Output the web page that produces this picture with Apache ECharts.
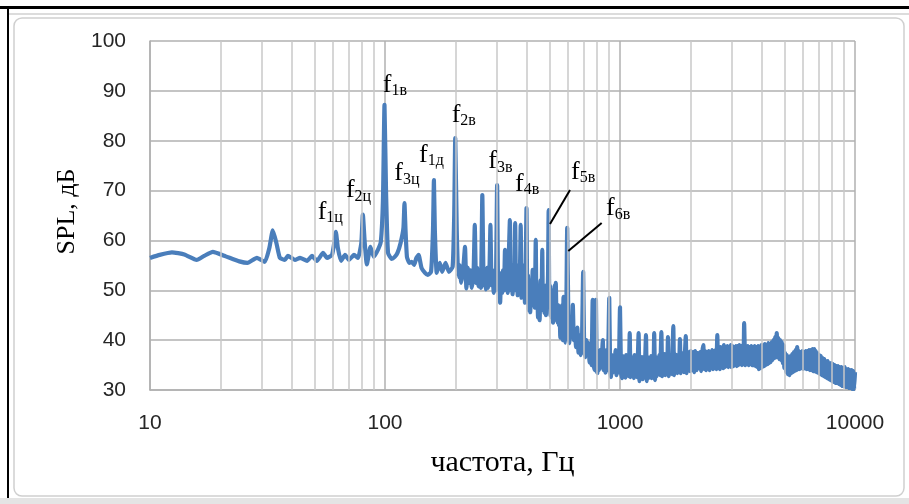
<!DOCTYPE html>
<html>
<head>
<meta charset="UTF-8">
<title>SPL</title>
<script src="https://cdn.jsdelivr.net/npm/echarts@6/dist/echarts.min.js"></script>
<style>
  html, body { margin: 0; padding: 0; background: #fff; }
  #main { width: 909px; height: 504px; }
</style>
</head>
<body>
<div id="main"></div>
<script type="text/javascript">
// spectrum: [frequency, Hz ; SPL, dB]
var lowRange = [
  [10, 56.5], [11, 57.1], [12.4, 57.6], [14, 57.2], [15.8, 56.1], [17, 56.9], [18.5, 57.7],
  [21, 56.8], [24, 55.8], [26, 55.5], [28.5, 56.5], [30.8, 55.7], [32.2, 58.5], [33.3, 62.0],
  [34.5, 59.5], [35.7, 56.5], [37.5, 56.1], [38.6, 56.9], [41.4, 56.1], [43.5, 56.5],
  [46.6, 55.9], [48.9, 56.9], [51.3, 55.9], [54.5, 57.5], [56.7, 56.5], [59.5, 57.1],
  [60.8, 59.5], [61.8, 61.7], [63, 58.5], [65, 55.9], [67.6, 57.1], [70.3, 56.1], [73.8, 57.1],
  [76.8, 56.5], [79.3, 59.5], [80.5, 65.2], [82, 59.5], [83.7, 55.2], [86.7, 58.7], [89.6, 56.7],
  [93.7, 58.3], [96, 59.7], [98, 68], [99.5, 87.2], [101, 70]
];
var midRange = [
  [103, 57.5], [106.7, 56.3], [110, 56.7], [113, 57.5], [116.5, 59.5], [119.8, 62.5], [121, 67.5],
  [122.3, 62], [124, 56.7], [127, 55.5], [130, 55.7], [133, 55.1], [136, 56.5], [139, 57.1],
  [143, 54.5], [148, 53.5], [152, 53.1], [157, 53.7], [160, 62], [161.5, 72.1], [163, 62],
  [166, 53.5], [171, 55.5], [175, 53.7], [181, 55.5], [187, 53.7], [194, 54.7], [197, 65],
  [199, 80.5], [202, 62], [205, 52.7], [208, 55], [211, 51.5], [215, 54], [219, 58.7], [222, 50.4],
  [225, 54.5], [228, 51.5], [231, 54], [234, 50.5], [238, 53], [241, 63.1], [244, 51.5], [247, 54.5],
  [250, 50.8], [253, 54], [256, 50.5], [259.5, 69.1], [263, 51], [266, 53.8], [269, 50.2], [272, 54.5],
  [275, 50.5], [278, 53], [281, 63.1], [284, 51], [287, 54], [290, 49.5], [293, 53], [296, 50],
  [300, 71.1], [303, 50.5], [306, 53.5], [309, 47.5], [312, 53], [315, 49.5], [318, 54], [321, 50],
  [324, 58.1], [327, 50.5], [330, 55], [333, 49.5], [336, 56], [340, 64.1], [343, 50], [346, 55],
  [349, 49.2], [352, 54.1], [355, 50], [358, 63.5], [361, 50.5], [364, 55], [367, 49], [370, 55],
  [374, 51], [378, 63.1], [381, 48.5], [384, 54], [388, 51], [391, 55], [394, 47.5], [397, 55],
  [400, 66.5], [403, 48], [406, 53], [409, 46], [412, 51], [415, 45.6], [418, 52], [421, 47],
  [425, 54.1], [428, 47], [431, 52], [434, 46.5], [438, 60.1], [441, 47], [444, 51], [448, 44.5],
  [452, 49], [455, 44.0], [459, 52], [463, 47], [467, 58.1], [470, 46], [474, 51], [477, 45.5],
  [480, 50.7], [484, 45], [487, 51], [490, 47], [494, 53], [497, 66.1], [500, 49], [503, 51],
  [506, 45], [509, 49.5], [512, 44.5], [515, 48.7], [519, 43.5], [522, 49], [526, 51], [529, 45],
  [533, 51.5], [537, 44], [540, 47], [543, 43.5], [547, 47], [550, 43], [554, 44.5], [557, 40.5],
  [560, 46], [563, 41.5], [567, 47], [571, 40], [575, 48.7], [579, 40.5], [583, 46], [587, 39.5],
  [591, 46]
];
var highRange1 = [
  [596, 62.5], [603, 44], [608, 39.4], [616, 43], [624, 41], [630, 47.1], [636, 40.0], [643, 42],
  [650, 38.6], [658, 42.5], [666, 37.5], [673, 41], [680, 37], [689, 40], [697, 53.7], [704, 38],
  [712, 36.6], [719, 40], [727, 37], [735, 39.4], [742, 35.5], [750, 38.5], [757, 35], [765, 48.1],
  [771, 36], [778, 34], [784, 38], [790, 48.1], [796, 34], [801, 33.4], [808, 37.5], [815, 34],
  [823, 38], [830, 34.5], [838, 37], [845, 40], [852, 34], [860, 36], [868, 33.5], [876, 38],
  [884, 34], [891, 37], [900, 48.5], [908, 34], [915, 32.6], [923, 37], [931, 33.5], [940, 36.5],
  [948, 34], [957, 38], [966, 33], [974, 36], [983, 33.5], [991, 36.5], [1000, 46.6], [1010, 33.5],
  [1020, 32.4], [1028, 36.8], [1037, 33.0], [1045, 36.0], [1053, 32.5], [1062, 37.0], [1071, 33.4],
  [1080, 36.2], [1090, 32.8], [1100, 41.4], [1108, 32.6], [1117, 36.6], [1126, 33.0], [1135, 36.4],
  [1145, 32.4], [1154, 37.0], [1163, 33.2], [1172, 36.2], [1181, 32.6], [1190, 35.8], [1200, 41.4],
  [1210, 31.8], [1220, 36.0], [1230, 32.6], [1240, 36.6], [1250, 32.2], [1260, 36.0], [1270, 33.0],
  [1280, 36.4], [1290, 41.0], [1300, 31.8], [1311, 36.6], [1322, 32.4], [1333, 36.0], [1344, 32.8],
  [1355, 36.8], [1366, 32.4], [1377, 36.2], [1388, 33.0], [1398, 41.4], [1410, 32.0], [1421, 36.6],
  [1433, 32.8], [1445, 36.4], [1457, 33.2], [1469, 37.0], [1481, 33.0], [1500, 41.6], [1512, 32.8],
  [1524, 36.8], [1536, 33.4], [1548, 37.2], [1561, 33.0], [1574, 36.6], [1587, 33.6], [1600, 40.6],
  [1613, 32.8], [1626, 36.6], [1639, 33.4], [1652, 37.0], [1665, 33.2], [1672, 36.8], [1686, 42.8],
  [1699, 33.0], [1713, 37.2], [1727, 33.6], [1741, 37.0], [1755, 33.4], [1769, 36.8], [1783, 33.8],
  [1799, 40.2], [1813, 33.4], [1828, 37.2], [1843, 33.8], [1858, 37.4], [1873, 33.6], [1888, 37.0],
  [1905, 40.8], [1920, 33.4], [1936, 37.4], [1952, 34.0], [1968, 37.6], [1984, 33.8]
];
var highRange2 = [
  [2000, 37.8], [2020, 34.0], [2050, 37.6], [2070, 33.6], [2090, 37.8], [2120, 34.0], [2140, 37.4],
  [2160, 34.4], [2195, 37.6], [2215, 33.8], [2240, 37.6], [2262, 39.0], [2285, 34.2], [2305, 37.8],
  [2325, 34.0], [2345, 37.6], [2365, 34.4], [2385, 37.8], [2405, 34.0], [2425, 37.4], [2445, 34.4],
  [2465, 38.0], [2490, 34.2], [2510, 37.8], [2530, 34.4], [2550, 38.0], [2570, 34.2], [2595, 41.0],
  [2615, 34.4], [2635, 38.2], [2658, 34.2], [2680, 38.6], [2702, 34.6], [2725, 38.4], [2748, 34.4],
  [2770, 39.0], [2795, 34.6], [2820, 38.6], [2842, 34.8], [2865, 38.8], [2890, 34.6], [2915, 38.6],
  [2937, 34.8], [2960, 39.0], [2985, 34.6], [3010, 38.8], [3037, 34.8], [3065, 38.6], [3090, 35.0],
  [3115, 38.8], [3140, 34.8], [3165, 38.8], [3192, 35.0], [3220, 39.0], [3247, 35.2], [3275, 38.8],
  [3302, 35.0], [3330, 39.0], [3355, 35.2], [3375, 43.4], [3410, 35.0], [3440, 38.6], [3470, 35.2],
  [3500, 38.8], [3530, 35.0], [3560, 38.6], [3590, 35.2], [3620, 38.8], [3650, 35.0], [3680, 38.6],
  [3710, 35.0], [3740, 38.8], [3772, 34.8], [3805, 38.6], [3837, 34.6], [3870, 38.8], [3902, 34.2],
  [3935, 38.4], [3967, 34.4], [4000, 39.0], [4032, 34.6], [4065, 38.8], [4100, 34.8], [4135, 39.2],
  [4170, 35.0], [4205, 39.0], [4240, 35.2], [4275, 39.4], [4310, 35.4], [4345, 39.2], [4382, 35.6],
  [4420, 39.6], [4457, 36.0], [4495, 40.0], [4532, 36.4], [4570, 40.6], [4608, 36.6], [4645, 41.4],
  [4685, 36.6], [4725, 40.4], [4765, 36.2], [4805, 40.0], [4845, 36.0], [4885, 39.6], [4925, 35.4],
  [4965, 39.0], [5005, 34.4], [5050, 37.4], [5090, 33.6], [5135, 37.0], [5177, 33.2], [5220, 36.6],
  [5265, 33.0], [5310, 36.8], [5355, 33.4], [5400, 37.2], [5445, 33.6], [5490, 37.6], [5535, 33.8],
  [5580, 38.0], [5627, 34.0], [5675, 38.6], [5722, 34.2], [5770, 37.8], [5817, 34.2], [5865, 37.6],
  [5915, 34.4], [5965, 37.8], [6015, 34.2], [6065, 37.6], [6117, 34.4], [6170, 37.8], [6220, 34.2],
  [6270, 37.8], [6322, 34.2], [6375, 38.0], [6430, 34.0], [6485, 38.0], [6540, 34.0], [6595, 38.2],
  [6650, 33.8], [6705, 38.2], [6760, 33.8], [6815, 37.8], [6872, 33.6], [6930, 37.4], [6990, 33.4],
  [7050, 37.0], [7107, 33.2], [7165, 36.8], [7225, 33.0], [7285, 36.4], [7347, 32.8], [7410, 36.2],
  [7472, 32.6], [7535, 35.8], [7597, 32.4], [7660, 35.8], [7725, 32.2], [7790, 35.4], [7855, 32.0],
  [7920, 35.4], [7987, 31.8], [8055, 35.2], [8122, 31.6], [8190, 35.0], [8257, 31.4], [8325, 34.8],
  [8395, 31.4], [8465, 34.8], [8537, 31.2], [8610, 34.6], [8682, 31.0], [8755, 34.6], [8827, 30.8],
  [8900, 34.4], [8975, 30.8], [9050, 34.6], [9125, 30.6], [9200, 34.2], [9277, 30.6], [9355, 34.2],
  [9435, 30.4], [9515, 34.0], [9595, 30.4], [9675, 34.0], [9755, 30.2], [9835, 33.8], [9917, 30.2],
  [10000, 33.6]
];

// intermediate grid lines of the log axis
var minorGrid = [20, 30, 40, 50, 60, 70, 80, 90, 200, 300, 400, 500, 600, 700, 800, 900,
  2000, 3000, 4000, 5000, 6000, 7000, 8000, 9000];

// peak labels: subscript, [freq, dB] of the label
var peakNames = ['1ц', '2ц', '1в', '3ц', '1д', '2в', '3в', '4в', '5в', '6в'];
var peakSpots = [[51.7, 65.7], [68.2, 70.0], [97.8, 91.2], [109.5, 73.4], [139.5, 77.2],
  [192.2, 85.2], [275.2, 75.8], [357.4, 71.3], [618.8, 73.7], [871.6, 66.4]];
// leader lines for f5в, f6в
var leaders = [
  [[612.8, 70.1], [503.7, 63.3]],
  [[835.6, 63.5], [602.6, 57.9]]
];

var yTicks = { min: 30, max: 100, step: 10 };
var xTitle = 'частота, Гц';
var yTitle = 'SPL, дБ';

var spectrum = lowRange.concat(midRange, highRange1, highRange2);

var myChart = echarts.init(document.getElementById('main'));

var option = {
    animation: false,
    backgroundColor: '#fff',
    grid: { left: 150, right: 54, top: 41, bottom: 114 },
    xAxis: {
        type: 'log', logBase: 10, min: 10, max: 10000,
        name: xTitle, nameLocation: 'middle', nameGap: 58,
        nameTextStyle: { fontFamily: 'Liberation Serif', fontSize: 30, color: '#000' },
        axisLine: { lineStyle: { color: '#b0b0b0', width: 1.5 } },
        axisTick: { show: false },
        minorTick: { show: false },
        axisLabel: {
            margin: 23, fontFamily: 'Liberation Sans', fontSize: 21, color: '#262626',
            formatter: function (v) { return String(Math.round(v)); }
        },
        splitLine: { show: true, lineStyle: { color: '#b0b0b0', width: 1.5 } }
    },
    yAxis: {
        type: 'value', min: yTicks.min, max: yTicks.max, interval: yTicks.step,
        name: yTitle, nameLocation: 'middle', nameGap: 58, nameRotate: 90,
        nameTextStyle: { fontFamily: 'Liberation Serif', fontSize: 26, color: '#000', padding: [0, 0, 0, 8] },
        axisLine: { show: true, lineStyle: { color: '#b0b0b0', width: 1.5 } },
        axisTick: { show: false },
        axisLabel: { margin: 24, fontFamily: 'Liberation Sans', fontSize: 21, color: '#262626' },
        splitLine: { lineStyle: { color: '#b0b0b0', width: 1.5 } }
    },
    graphic: [
        { type: 'rect', shape: { x: 0, y: 6, width: 909, height: 3 }, style: { fill: '#000' } },
        { type: 'rect', shape: { x: 7, y: 6, width: 2, height: 492 }, style: { fill: '#000' } },
        { type: 'rect', shape: { x: 9, y: 13, width: 900, height: 2 }, style: { fill: '#dcdcdc' } },
        { type: 'rect', shape: { x: 14, y: 18, width: 890, height: 478, r: 8 },
          style: { fill: 'none', stroke: '#cfcfcf', lineWidth: 1.5 } },
        { type: 'rect', shape: { x: 0, y: 498, width: 909, height: 6 }, style: { fill: '#e4e4e4' } }
    ],
    series: [
        {
            type: 'line', z: 1, data: [], silent: true,
            markLine: {
                silent: true, symbol: 'none', animation: false,
                label: { show: false },
                lineStyle: { color: '#c8c8c8', width: 1.5, type: 'solid' },
                data: minorGrid.map(function (f) { return { xAxis: f }; })
            }
        },
        {
            type: 'line', z: 3, data: spectrum,
            showSymbol: false, smooth: 0.15,
            lineStyle: { color: '#4a7ebb', width: 4.2, join: 'round' },
            itemStyle: { color: '#4a7ebb' },
            markLine: {
                silent: true, symbol: 'none', animation: false,
                label: { show: false },
                lineStyle: { color: '#000', width: 2, type: 'solid' },
                data: leaders.map(function (l) { return [{ coord: l[0] }, { coord: l[1] }]; })
            },
            markPoint: {
                symbol: 'circle', symbolSize: 0, silent: true, animation: false,
                label: {
                    show: true, position: 'right', distance: 0,
                    formatter: function (p) { return '{a|f}{b|' + p.name + '}'; },
                    rich: {
                        a: { fontFamily: 'Liberation Serif', fontSize: 26, color: '#000' },
                        b: { fontFamily: 'Liberation Serif', fontSize: 16, color: '#000', padding: [12, 0, 0, 0] }
                    }
                },
                data: peakSpots.map(function (c, i) { return { name: peakNames[i], coord: c }; })
            }
        }
    ]
};

myChart.setOption(option);
</script>
</body>
</html>
